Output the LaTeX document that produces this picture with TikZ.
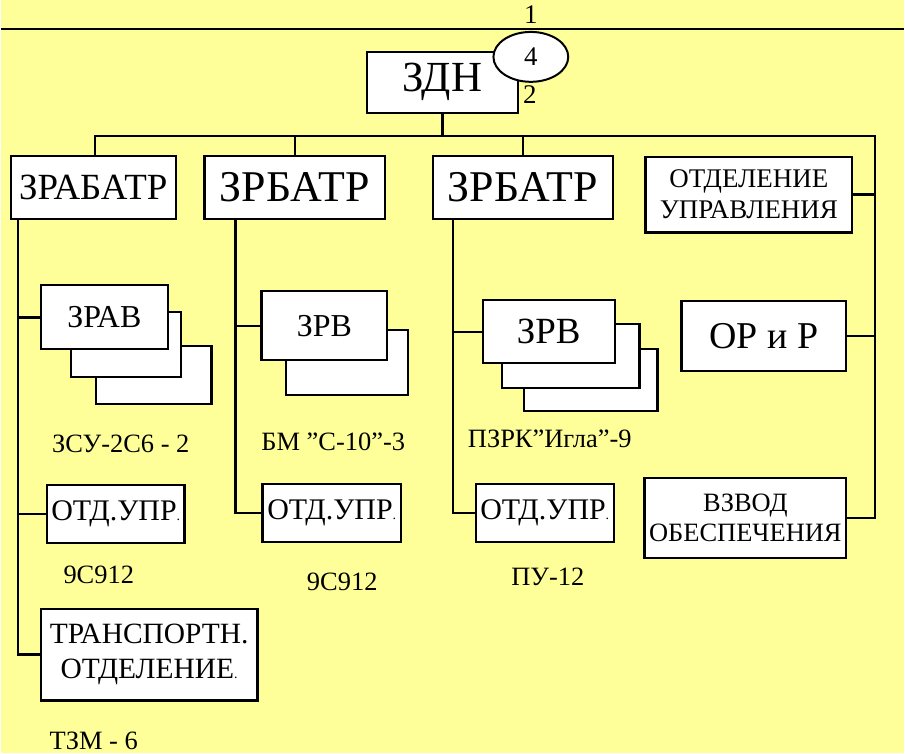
\documentclass[tikz,border=0pt]{standalone}
\usepackage{fontspec}
\setmainfont{LiberationSerif}[Extension=.ttf,UprightFont=*-Regular,BoldFont=*-Bold]
\usetikzlibrary{shapes.geometric}
\definecolor{bgyellow}{HTML}{FFFF99}
\newcommand{\fs}[1]{\fontsize{#1}{#1}\selectfont}
\newcommand{\smdot}{{\fontsize{14}{14}\selectfont.}}
\begin{document}
\begin{tikzpicture}[x=1pt,y=-1pt,
    box/.style={draw,fill=white,line width=2.2pt,inner sep=0pt,align=center},
    link/.style={line width=2.4pt}]
  \fill[bgyellow] (0,0) rectangle (905,755);
  % top
  \coordinate (tl) at (0,29);
  \coordinate (tr) at (905,29);
  \draw[line width=2pt] (tl) -- (tr);
  \node[font=\fs{27}] (n1) at (531,15) {1};
  \node[box,minimum width=151pt,minimum height=61pt,font=\fs{43}] (zdn) at (442.5,82.5) {ЗДН};
  \node[draw,fill=white,ellipse,line width=2pt,minimum width=75pt,minimum height=50pt,inner sep=0pt,font=\fs{27}] (e4) at (531,57) {4};
  \node[font=\fs{27}] (n2) at (530,95) {2};
  % batteries
  \node[box,minimum width=165pt,minimum height=63pt,font=\fs{37}] (b1) at (92.5,188) {ЗРАБАТР};
  \node[box,minimum width=181pt,minimum height=63pt,font=\fs{44}] (b2) at (294.5,188) {ЗРБАТР};
  \node[box,minimum width=180pt,minimum height=63pt,font=\fs{44}] (b3) at (523,188) {ЗРБАТР};
  \node[box,minimum width=207pt,minimum height=76pt,font=\fontsize{27}{31}\selectfont] (ou) at (749.5,195) {ОТДЕЛЕНИЕ\\УПРАВЛЕНИЯ};
  \node[box,minimum width=165pt,minimum height=70pt,font=\fs{38}] (opr) at (764.5,337) {ОР и Р};
  \node[box,minimum width=202pt,minimum height=80pt,font=\fontsize{26.5}{30}\selectfont] (vzv) at (746,519) {ВЗВОД\\ОБЕСПЕЧЕНИЯ};
  % column 1
  \node[box,minimum width=116pt,minimum height=58pt] (zravC) at (153,376) {};
  \node[box,minimum width=110pt,minimum height=65pt] (zravB) at (125,345.5) {};
  \node[box,minimum width=127pt,minimum height=64pt,font=\fs{32}] (zrav) at (103.5,318) {ЗРАВ};
  \node[box,minimum width=138pt,minimum height=58pt,font=\fs{30}] (otd1) at (115,515) {ОТД.УПР\smdot};
  \node[box,minimum width=217pt,minimum height=92pt,font=\fontsize{29.5}{35}\selectfont] (trans) at (148.5,656) {ТРАНСПОРТН.\\ОТДЕЛЕНИЕ\smdot};
  % column 2
  \node[box,minimum width=122pt,minimum height=65pt] (zrv2B) at (347,363.5) {};
  \node[box,minimum width=126pt,minimum height=69pt,font=\fs{32}] (zrv2) at (324,326.5) {ЗРВ};
  \node[box,minimum width=139pt,minimum height=58pt,font=\fs{30}] (otd2) at (331.5,514) {ОТД.УПР\smdot};
  % column 3
  \node[box,minimum width=134pt,minimum height=62pt] (zrv3C) at (591,381) {};
  \node[box,minimum width=138pt,minimum height=64pt] (zrv3B) at (571,357) {};
  \node[box,minimum width=132pt,minimum height=63pt,font=\fs{37}] (zrv3) at (549,332.5) {ЗРВ};
  \node[box,minimum width=138pt,minimum height=58pt,font=\fs{30}] (otd3) at (545,514) {ОТД.УПР\smdot};
  % labels
  \node[font=\fs{26.5}] (l1) at (120,445) {ЗСУ-2С6 - 2};
  \node[font=\fs{26.5}] (l2) at (333,443) {БМ ”С-10”-3};
  \node[font=\fs{26.5}] (l3) at (550,440) {ПЗРК”Игла”-9};
  \node[font=\fs{26.5}] (l4) at (98,576) {9С912};
  \node[font=\fs{26.5}] (l5) at (342,583) {9С912};
  \node[font=\fs{26.5}] (l6) at (548,578) {ПУ-12};
  \node[font=\fs{26.5}] (l7) at (93,742) {ТЗМ - 6};
  % connectors
  \coordinate (busL) at (94,136);
  \coordinate (busR) at (876,136);
  \coordinate (c1) at (17,219);
  \coordinate (c2) at (235,219);
  \coordinate (c3) at (453,219);
  \draw[link] (zdn.south) -- (zdn.south |- busL);
  \draw[link] (busL |- b1.north) -- (busL) -- (busR) |- (vzv.east);
  \draw[link] (b2.north) -- (b2.north |- busL);
  \draw[link] (b3.north) -- (b3.north |- busL);
  \draw[link] (ou.east) -- (ou.east -| busR);
  \draw[link] (opr.east) -- (opr.east -| busR);
  \draw[link] (c1) |- (trans.west);
  \draw[link] (zrav.west) -- (zrav.west -| c1);
  \draw[link] (otd1.west) -- (otd1.west -| c1);
  \draw[link] (c2) |- (otd2.west);
  \draw[link] (zrv2.west) -- (zrv2.west -| c2);
  \draw[link] (c3) |- (otd3.west);
  \draw[link] (zrv3.west) -- (zrv3.west -| c3);
\end{tikzpicture}
\end{document}
